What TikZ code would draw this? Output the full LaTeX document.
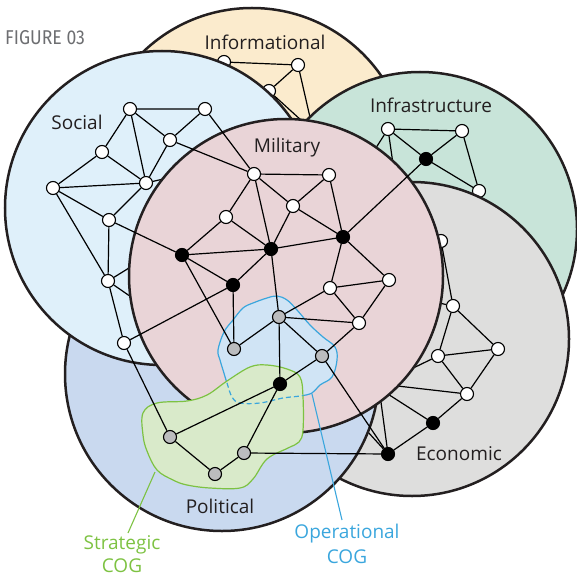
\documentclass[tikz,border=0pt]{standalone}
\usepackage{fontspec}
\setmainfont{Open Sans}
\newfontfamily\figfont{Fira Sans}
\usepackage{graphicx}
\definecolor{yel}{HTML}{FBEBCD}
\definecolor{soc}{HTML}{DFF0FA}
\definecolor{infc}{HTML}{C8E4D9}
\definecolor{mil}{HTML}{E9D4D7}
\definecolor{eco}{HTML}{DEDEDD}
\definecolor{pol}{HTML}{C9D9EF}
\definecolor{opf}{HTML}{D0E4F5}
\definecolor{opc}{HTML}{3AA6DD}
\definecolor{stf}{HTML}{D9EACA}
\definecolor{stc}{HTML}{7DC242}
\definecolor{ngrey}{HTML}{BBBCBE}
\definecolor{ringc}{HTML}{231F20}
\definecolor{figc}{HTML}{6D6E71}
\begin{document}
\begin{tikzpicture}[x=1pt,y=-1pt,
  ring/.style={circle, draw=ringc, line width=2.5pt, minimum size=314pt, inner sep=0pt},
  ed/.style={line width=1.2pt, draw=black},
  wn/.style={circle, draw=black, line width=1.1pt, fill=white, minimum size=13pt, inner sep=0pt},
  bn/.style={wn, fill=black},
  gn/.style={wn, fill=ngrey},
  lab/.style={font=\fontsize{19}{23}\selectfont, text=ringc, anchor=base, inner sep=1pt},
  cog/.style={font=\fontsize{19}{23}\selectfont, anchor=base, inner sep=0pt}]
\useasboundingbox (0,0) rectangle (576,577);

% ---------- Informational ----------
\node[ring, fill=yel] (cInfo) at (252,165) {};
\node[wn] (I1) at (224,62) {};
\node[wn] (I2) at (298,65) {};
\node[wn] (I3) at (269,91) {};
\coordinate (i3a) at (296,124);
\coordinate (i3b) at (302,121);
\coordinate (i2a) at (312,126);
\draw[ed] (I1) -- (I2) (I2) -- (I3) (I2) -- (i2a) (I3) -- (i3a) (I3) -- (i3b);

% ---------- Infrastructure ----------
\node[ring, fill=infc] (cInfr) at (420,229) {};
\node[wn] (N1) at (388,129) {};
\node[wn] (N2) at (462,131) {};
\node[bn] (NB) at (426,159) {};
\node[wn] (N3) at (479,191) {};
\coordinate (n1a) at (358,176);
\coordinate (n1b) at (396,185);
\draw[ed] (N1) -- (N2) (N1) -- (NB) (N2) -- (NB) (N2) -- (N3) (NB) -- (N3)
  (N1) -- (n1a) (N1) -- (n1b);

% ---------- Economic ----------
\node[ring, fill=eco] (cEco) at (412,339) {};
\node[bn] (EB1) at (388,454) {};
\node[bn] (EB2) at (433,423) {};
\node[wn] (E1) at (467,394) {};
\node[wn] (E2) at (498,349) {};
\node[wn] (E3) at (438,356) {};
\node[wn] (E4) at (453,306) {};
\node[wn] (E5) at (441,241) {};
\coordinate (eb1a) at (327,387);
\coordinate (eb1b) at (378,380);
\coordinate (eb2a) at (380,389);
\coordinate (e1a) at (380,384);
\coordinate (e3a) at (405,372);
\coordinate (e4a) at (425,300);
\draw[ed] (EB1) -- (EB2) (EB2) -- (E1) (E1) -- (E2) (E1) -- (E3) (E3) -- (E2)
  (E3) -- (E4) (E4) -- (E2) (E4) -- (E5)
  (EB1) -- (eb1a) (EB1) -- (eb1b) (EB2) -- (eb2a) (E1) -- (e1a) (E3) -- (e3a) (E4) -- (e4a);

% ---------- Political ----------
\node[ring, fill=pol] (cPol) at (222,374) {};

% ---------- Social ----------
\node[ring, fill=soc] (cSoc) at (162,208) {};
\node[wn] (S1) at (130,109) {};
\node[wn] (S2) at (205,109) {};
\node[wn] (S3) at (170,140) {};
\node[wn] (S4) at (102,152) {};
\node[wn] (S5) at (53,188) {};
\node[wn] (S6) at (146,183) {};
\node[wn] (S7) at (109,220) {};
\node[wn] (S8) at (108,281) {};
\node[wn] (S9) at (124,343) {};
\coordinate (s8a) at (150,255);
\coordinate (s8b) at (150,310);
\coordinate (s6a) at (172,177);
\draw[ed] (S1) -- (S2) (S1) -- (S4) (S1) -- (S3) (S1) -- (S6) (S2) -- (S3) (S3) -- (S6)
  (S4) -- (S5) (S4) -- (S6) (S5) -- (S6) (S5) -- (S7) (S5) -- (S8) (S6) -- (S7)
  (S7) -- (S8) (S8) -- (S9) (S8) -- (s8a) (S8) -- (s8b) (S6) -- (s6a);

% ---------- Military ----------
\node[ring, fill=mil] (cMil) at (286,276) {};

% ---------- COG blobs ----------
\fill[opf] plot[smooth cycle, tension=0.6] coordinates {(218,350) (224,332) (233,320) (243,308) (253,303) (267,298) (277,296) (287,300) (297,310) (310,325) (323,337) (335,347) (337,360) (332,377) (320,385) (312,393) (300,396) (283,398) (260,403) (240,403) (232,397) (227,383) (223,370) (220,360)};
\draw[opc, line width=1.2pt] plot[smooth cycle, tension=0.6] coordinates {(218,350) (224,332) (233,320) (243,308) (253,303) (267,298) (277,296) (287,300) (297,310) (310,325) (323,337) (335,347) (337,360) (332,377) (320,385) (312,393) (300,396) (283,398) (260,403) (240,403) (232,397) (227,383) (223,370) (220,360)};
\fill[stf] plot[smooth cycle, tension=0.6] coordinates {(143,413) (157,403) (187,401) (207,395) (227,381) (250,367) (267,365) (287,369) (300,377) (303,397) (303,430) (299,442) (288,448) (267,459) (253,479) (240,488) (210,488) (187,485) (173,480) (157,470) (147,451) (143,435)};
\draw[stc, line width=1.2pt] plot[smooth cycle, tension=0.6] coordinates {(143,413) (157,403) (187,401) (207,395) (227,381) (250,367) (267,365) (287,369) (300,377) (303,397) (303,430) (299,442) (288,448) (267,459) (253,479) (240,488) (210,488) (187,485) (173,480) (157,470) (147,451) (143,435)};
\begin{scope}
\clip plot[smooth cycle, tension=0.6] coordinates {(143,413) (157,403) (187,401) (207,395) (227,381) (250,367) (267,365) (287,369) (300,377) (303,397) (303,430) (299,442) (288,448) (267,459) (253,479) (240,488) (210,488) (187,485) (173,480) (157,470) (147,451) (143,435)};
\draw[opc, line width=1.2pt, dash pattern=on 5pt off 3pt] plot[smooth cycle, tension=0.6] coordinates {(218,350) (224,332) (233,320) (243,308) (253,303) (267,298) (277,296) (287,300) (297,310) (310,325) (323,337) (335,347) (337,360) (332,377) (320,385) (312,393) (300,396) (283,398) (260,403) (240,403) (232,397) (227,383) (223,370) (220,360)};
\end{scope}

% ---------- Military / political nodes ----------
\node[wn] (M1) at (254,174) {};
\node[wn] (M2) at (329,175) {};
\node[wn] (M3) at (293,206) {};
\node[wn] (M4) at (226,217) {};
\node[bn] (MB1) at (182,255) {};
\node[bn] (MB2) at (271,249) {};
\node[bn] (MB4) at (343,237) {};
\node[bn] (MB3) at (233,285) {};
\node[wn] (M5) at (330,288) {};
\node[wn] (M6) at (389,280) {};
\node[wn] (M7) at (359,323) {};
\node[gn] (G1) at (279,317) {};
\node[gn] (G2) at (234,349) {};
\node[gn] (G3) at (322,356) {};
\node[bn] (MB5) at (280,384) {};
\node[gn] (P1) at (170,437) {};
\node[gn] (P2) at (215,474) {};
\node[gn] (P3) at (244,453) {};

\draw[ed]
  (M1) -- (S2) (M1) -- (S3) (M1) -- (M2) (M1) -- (M3) (M1) -- (M4) (M1) -- (MB2)
  (M2) -- (M3) (M2) -- (MB4)
  (M3) -- (MB2) (M3) -- (MB4)
  (M4) -- (MB1) (M4) -- (MB2)
  (MB1) -- (S7) (MB1) -- (MB2) (MB1) -- (MB3) (MB1) -- (G2)
  (MB2) -- (MB3) (MB2) -- (MB4) (MB2) -- (G1)
  (MB3) -- (S9) (MB3) -- (G2)
  (MB4) -- (M5) (MB4) -- (M6) (MB4) -- (NB)
  (M5) -- (M6) (M5) -- (M7) (M5) -- (G1)
  (M6) -- (M7) (M7) -- (G1) (M7) -- (G3)
  (G1) -- (G2) (G1) -- (G3) (G1) -- (MB5)
  (G3) -- (MB5) (G3) -- (EB1)
  (MB5) -- (P1) (MB5) -- (P3)
  (P1) -- (S9) (P1) -- (P2) (P2) -- (P3) (P3) -- (EB1);

% ---------- labels ----------
\node[lab] (tInfo) at (265,50) {Informational};
\node[lab] (tSoc) at (77,130) {Social};
\node[lab] (tMil) at (287,153) {Military};
\node[lab] (tInfr) at (431,113) {Infrastructure};
\node[lab] (tEco) at (459,460) {Economic};
\node[lab] (tPol) at (220,513) {Political};

\node[cog, text=stc] (tStr) at (122,549) {Strategic};
\node[cog, text=stc] (tStr2) at (122,572) {COG};
\node[cog, text=opc] (tOp) at (347,538) {Operational};
\node[cog, text=opc] (tOp2) at (347,563) {COG};
\coordinate (stA) at (155,472);
\coordinate (stB) at (128,533);
\coordinate (opA) at (312,394);
\coordinate (opB) at (342,520);
\draw[stc, line width=1.1pt] (stA) -- (stB);
\draw[opc, line width=1.1pt] (opA) -- (opB);

\node[anchor=base west, text=figc, inner sep=0pt] (tFig) at (5,45) {\scalebox{0.88}[1]{\figfont\fontsize{20}{24}\selectfont FIGURE 03}};
\end{tikzpicture}
\end{document}
